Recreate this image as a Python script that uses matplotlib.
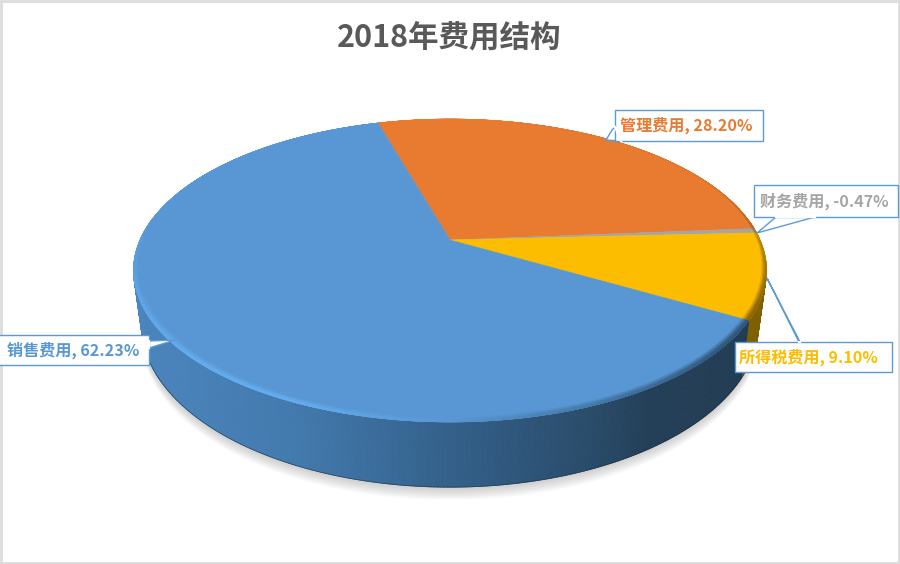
import numpy as np
import matplotlib
matplotlib.use('Agg')
from matplotlib import pyplot as plt
from matplotlib.collections import PolyCollection
from matplotlib.colors import LinearSegmentedColormap, to_rgb
from matplotlib.patches import Polygon, Rectangle

plt.rcParams['font.family'] = ['Noto Sans CJK SC', 'DejaVu Sans']

title = '2018年费用结构'
categories = ['管理费用', '财务费用', '所得税费用', '销售费用']
values = [28.20, -0.47, 9.10, 62.23]
colors = ['#e97b30', '#a5a5a5', '#fcbc00', '#5897d3']
side_dark = ['#8a4a1c', '#666666', '#7f6000', None]
start_angle = -16.1

# perspective of the pie disc, in pixels
cx, cy = 450, 240
a, b, k = 310, 145.4, 0.2013
depth = 52


def project(r, ang):
    # ang is degrees clockwise from the back of the pie
    t = np.radians(ang)
    X = r * np.sin(t)
    Y = -r * np.cos(t)
    w = 1 - k * Y
    return cx + a * X / w, cy + b * Y / w


def project_bottom(r, ang):
    t = np.radians(ang)
    X = r * np.sin(t)
    Y = -r * np.cos(t)
    w = 1 - k * Y
    return cx + 0.975 * a * X / w, cy + b * Y / w + depth / w


def mix(c1, c2, f):
    c1, c2 = np.array(to_rgb(c1)), np.array(to_rgb(c2))
    return tuple(c1 + (c2 - c1) * f)


fig = plt.figure(figsize=(9, 5.64), dpi=100)
ax = fig.add_axes([0, 0, 1, 1])
ax.set_xlim(0, 900)
ax.set_ylim(564, 0)
ax.axis('off')

# grey frame of the screenshot
ax.add_patch(Rectangle((0.5, 1), 898, 561.5, fill=False, ec='#dcdcdc', lw=2))

shares = np.abs(values) / np.sum(np.abs(values)) * 360
edges = start_angle + np.concatenate([[0], np.cumsum(shares)])

# soft shadow under the pie
front = np.linspace(75, 285, 200)
for i in range(10):
    px, py = project_bottom(1, front)
    ax.add_patch(Polygon(np.column_stack([px, py + 2 + i * 1.2]), closed=True,
                         fc='#808080', ec='none', alpha=0.04, zorder=1))

# side wall, cut in thin strips to get the shading
blue_side = LinearSegmentedColormap.from_list(
    'side', [(0, '#4b85bd'), (0.25, '#437aae'), (0.5, '#33608a'),
             (0.72, '#2a4c6b'), (0.82, '#233f57'), (1, '#223c53')])
polys, cols = [], []
for i in range(len(values)):
    n = max(int(shares[i] * 2), 2)
    ang = np.linspace(edges[i], edges[i + 1], n + 1)
    for j in range(n):
        mid = (ang[j] + ang[j + 1]) / 2
        if np.cos(np.radians(mid)) > 0.16:
            continue
        x0, y0 = project(1, ang[j])
        x1, y1 = project(1, ang[j + 1])
        x2, y2 = project_bottom(1, ang[j + 1])
        x3, y3 = project_bottom(1, ang[j])
        polys.append([(x0, y0), (x1, y1), (x2, y2), (x3, y3)])
        if side_dark[i] is None:
            cols.append(blue_side((np.clip((x0 + x1) / 2, 133, 767) - 133) / 634))
        else:
            cols.append(to_rgb(side_dark[i]))
ax.add_collection(PolyCollection(polys, facecolors=cols, edgecolors=cols, lw=0.6, zorder=2))

# thin dark line along the lower edge of the wall
bx, by = project_bottom(1, np.linspace(110, 255, 200))
ax.plot(bx, by, color='#1b2f42', lw=0.6, alpha=0.6, zorder=2)

# top face, one polygon for each slice
for i in range(len(values)):
    ang = np.linspace(edges[i], edges[i + 1], max(int(shares[i] * 2), 2))
    px, py = project(1, ang)
    ax.add_patch(Polygon(np.column_stack([np.r_[cx, px], np.r_[cy, py]]), closed=True,
                         fc=colors[i], ec=colors[i], lw=0.4, zorder=3))

# bevel on the rim, a few rings so that it fades into the top face
rings = [(0.022, 0.25), (0.017, 0.55), (0.012, 0.85), (0.006, 1.0)]
for z, (width0, strength) in enumerate(rings):
    polys, cols = [], []
    for i in range(len(values)):
        n = max(int(shares[i] * 3), 2)
        ang = np.linspace(edges[i], edges[i + 1], n + 1)
        for j in range(n):
            mid = (ang[j] + ang[j + 1]) / 2
            front_amount = -np.cos(np.radians(mid))
            x_side = np.sin(np.radians(mid))
            width = width0 * np.clip(front_amount + 0.45, 0.15, 1)
            x0, y0 = project(1, ang[j])
            x1, y1 = project(1, ang[j + 1])
            x2, y2 = project(1 - width, ang[j + 1])
            x3, y3 = project(1 - width, ang[j])
            polys.append([(x0, y0), (x1, y1), (x2, y2), (x3, y3)])
            if x_side < 0:
                f = np.clip(front_amount + 0.3, 0, 1) * min(1, -x_side * 2.5)
                cols.append(mix(colors[i], '#66adf0', f * strength))
            else:
                f = np.clip(x_side * 0.9, 0, 0.7) * np.clip(front_amount + 0.6, 0.1, 1)
                cols.append(mix(colors[i], '#1f3a52' if i == 3 else '#5c4000', f * strength))
    ax.add_collection(PolyCollection(polys, facecolors=cols, edgecolors=cols, lw=0.2, zorder=4 + z * 0.1))

# callouts: box left, top, right, bottom, text x, then the pointer outline
boxes = {
    0: (615, 110, 763, 141, 620, [(621, 141), (606, 140), (612, 130), (615, 127)]),
    1: (754, 185, 898, 217, 760, [(776, 217), (757, 233), (815, 217)]),
    2: (735, 342, 892, 372, 739, [(800, 342), (767, 278), (799, 342)]),
    3: (-3, 335, 149, 365, 7, [(149, 341), (175, 340), (149, 348)]),
}
for i in range(len(values)):
    x0, y0, x1, y1, tx, ptr = boxes[i]
    ax.add_patch(Polygon(ptr, closed=True, fc='white', ec='#5b9bd5', lw=1, zorder=5))
    ax.add_patch(Rectangle((x0, y0), x1 - x0, y1 - y0, fc='white', ec='#5b9bd5', lw=1, zorder=6))
    ax.plot([ptr[0][0], ptr[-1][0]], [ptr[0][1], ptr[-1][1]], color='white', lw=1.6, zorder=7)
    ax.text(tx, (y0 + y1) / 2, f'{categories[i]}, {values[i]:.2f}%', color=colors[i],
            fontsize=11.6, fontweight='bold', va='center', ha='left', zorder=8)

ax.text(449, 37, title, color='#595959', fontsize=22, fontweight='bold', ha='center', va='center')

fig.savefig('out.png', dpi=100)
